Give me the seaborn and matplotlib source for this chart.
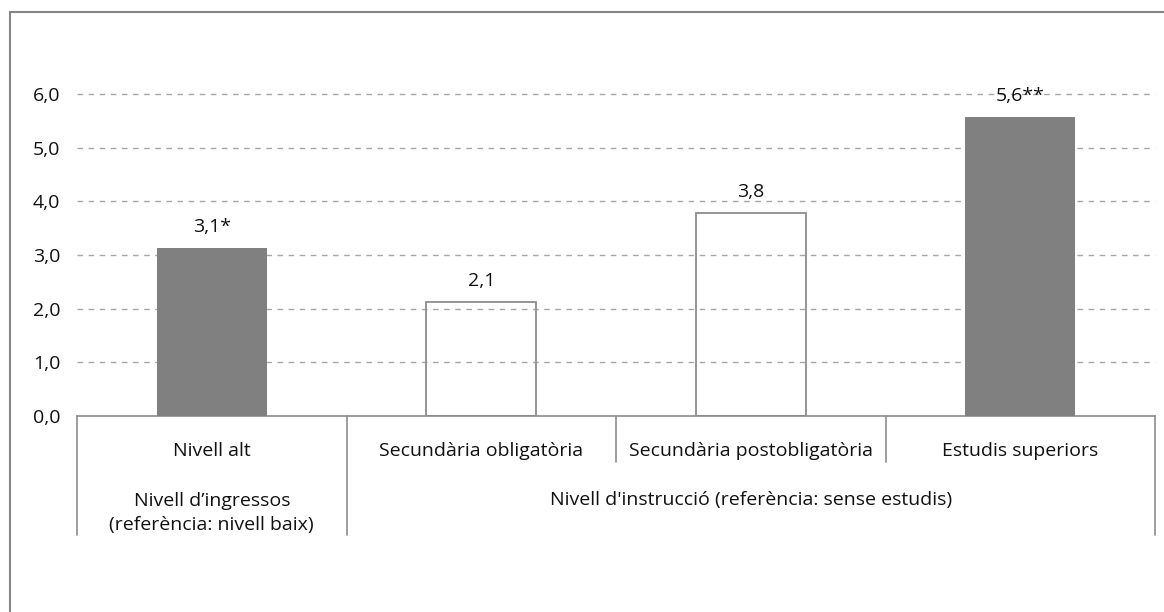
import matplotlib
matplotlib.use("Agg")
import matplotlib.pyplot as plt
import matplotlib.transforms as mtransforms
from matplotlib.lines import Line2D
from matplotlib.ticker import FuncFormatter
import seaborn as sns
import pandas as pd

# ---- data ----
categories = ["Nivell alt", "Secundària obligatòria", "Secundària postobligatòria", "Estudis superiors"]
values = [3.13, 2.12, 3.78, 5.57]
value_labels = ["3,1*", "2,1", "3,8", "5,6**"]
filled = [True, False, False, True]
group_labels = ["Nivell d’ingressos\n(referència: nivell baix)",
                "Nivell d'instrucció (referència: sense estudis)"]
group_spans = [(0, 0), (1, 3)]
yticks = [0, 1, 2, 3, 4, 5, 6]

sns.set_theme(style="white")
plt.rcParams["font.family"] = ["Open Sans", "DejaVu Sans"]
FS = 14

W, H = 1164, 612
fig = plt.figure(figsize=(W / 100, H / 100), dpi=100)
ax_left, ax_right, ax_bottom, ax_top = 77, 1155, 416, 94
ax = fig.add_axes([ax_left / W, (H - ax_bottom) / H,
                   (ax_right - ax_left) / W, (ax_bottom - ax_top) / H])

df = pd.DataFrame({"cat": categories, "val": values})
GREY = "#808080"
EDGE = "#8c8c8c"
sns.barplot(data=df, x="cat", y="val", color=GREY, width=0.41, ax=ax,
            saturation=1, zorder=3)
for p, f in zip(ax.patches, filled):
    if f:
        p.set_facecolor(GREY)
        p.set_edgecolor("none")
    else:
        p.set_facecolor("none")
        p.set_edgecolor(EDGE)
        p.set_linewidth(1.3)

ax.set_xlim(-0.5, len(categories) - 0.5)
ax.set_ylim(0, 6)
ax.set_yticks(yticks)
ax.yaxis.set_major_formatter(FuncFormatter(lambda v, _: f"{v:.1f}".replace(".", ",")))
ax.tick_params(axis="y", length=0, pad=12, labelsize=FS, labelcolor="#111111")
ax.set_xlabel("")
ax.set_ylabel("")

for y in yticks[1:]:
    ax.axhline(y, color="#a6a6a6", lw=1.0, ls=(0, (4, 4)), zorder=1, clip_on=False)

for s in ["top", "right", "left"]:
    ax.spines[s].set_visible(False)
ax.spines["bottom"].set_color(EDGE)
ax.spines["bottom"].set_linewidth(1.2)

# level-1 labels
ax.set_xticks(range(len(categories)), labels=categories)
ax.tick_params(axis="x", length=0, pad=18.5, labelsize=FS, labelcolor="#111111")

# value labels
for i, (v, lab) in enumerate(zip(values, value_labels)):
    ax.annotate(lab, (i, v), xytext=(0, 21), textcoords="offset pixels",
                ha="center", va="center", fontsize=FS, color="#111111")

# separators
axh = ax_bottom - ax_top
trans = mtransforms.blended_transform_factory(ax.transData, ax.transAxes)
short_y = -(462 - ax_bottom) / axh
long_y = -(535 - ax_bottom) / axh
group_edges = set()
for a, b in group_spans:
    group_edges.add(a - 0.5)
    group_edges.add(b + 0.5)
for k in range(len(categories) + 1):
    xb = k - 0.5
    yb = long_y if xb in group_edges else short_y
    ax.add_line(Line2D([xb, xb], [0, yb], transform=trans, color=EDGE, lw=1.2, clip_on=False))

# group labels
for lab, (a, b) in zip(group_labels, group_spans):
    ax.text((a + b) / 2, -(513 - ax_bottom) / axh if "\n" in lab else -(500 - ax_bottom) / axh,
            lab, transform=trans, ha="center", va="center", fontsize=FS,
            color="#111111", linespacing=1.4)

# outer frame (top and left)
fig.add_artist(Line2D([10 / W, 1], [1 - 11.5 / H, 1 - 11.5 / H], transform=fig.transFigure,
                      color="#868686", lw=1.5))
fig.add_artist(Line2D([10 / W, 10 / W], [0, 1 - 11.5 / H], transform=fig.transFigure,
                      color="#868686", lw=1.5))

fig.savefig("out.png", dpi=100, facecolor="white")
